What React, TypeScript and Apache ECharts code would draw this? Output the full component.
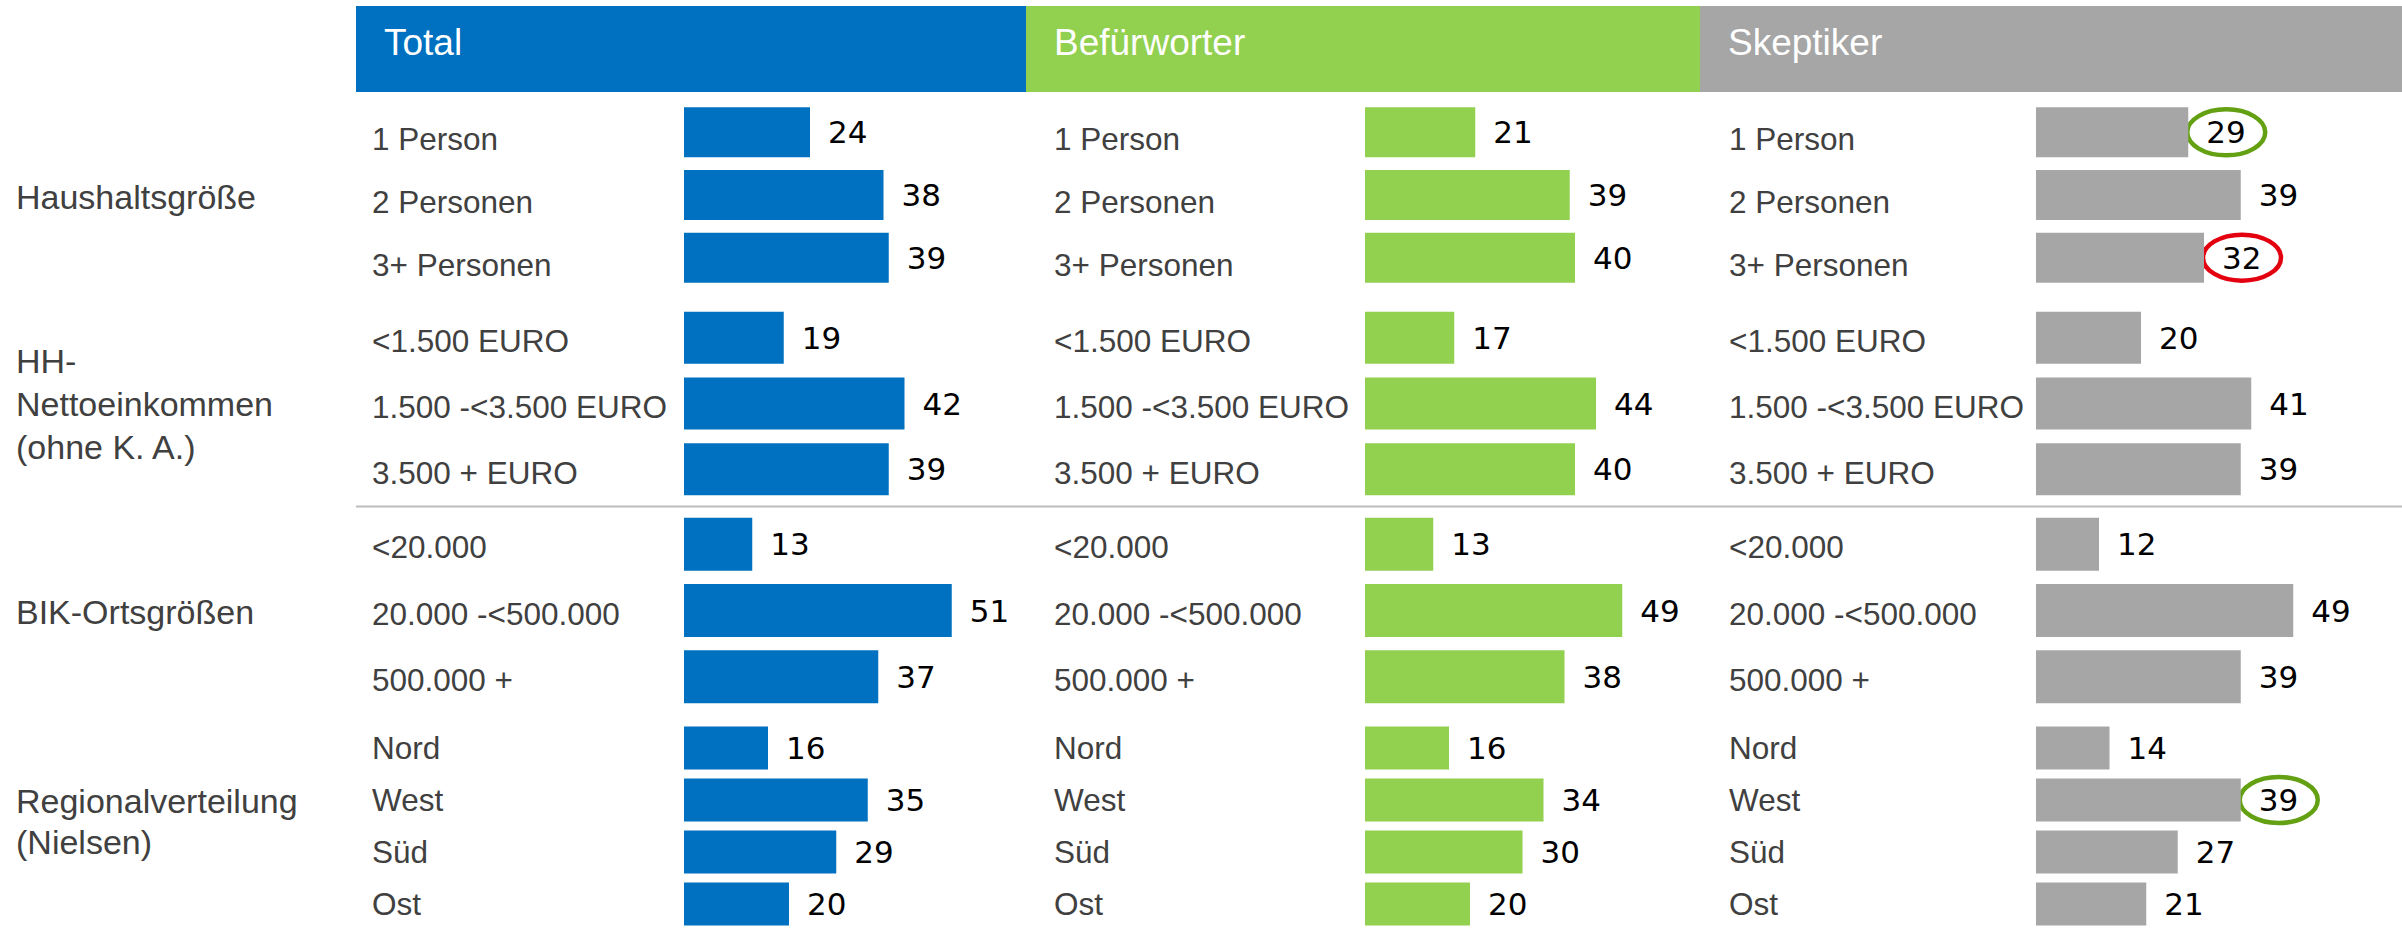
import React, { useEffect, useRef } from 'react';
import * as echarts from 'echarts';

// ---------- data ----------
const columns = ['Total', 'Befürworter', 'Skeptiker'];
const groupNames = ['Haushaltsgröße', 'HH-\nNettoeinkommen\n(ohne K. A.)', 'BIK-Ortsgrößen', 'Regionalverteilung\n(Nielsen)'];

const householdCategories = ['1 Person', '2 Personen', '3+ Personen'];
const incomeCategories = ['<1.500 EURO', '1.500 -<3.500 EURO', '3.500 + EURO'];
const bikCategories = ['<20.000', '20.000 -<500.000', '500.000 +'];
const regionCategories = ['Nord', 'West', 'Süd', 'Ost'];
const groupCategories = [householdCategories, incomeCategories, bikCategories, regionCategories];

const totalValues = [24, 38, 39, 19, 42, 39, 13, 51, 37, 16, 35, 29, 20];
const befuerworterValues = [21, 39, 40, 17, 44, 40, 13, 49, 38, 16, 34, 30, 20];
const skeptikerValues = [29, 39, 32, 20, 41, 39, 12, 49, 39, 14, 39, 27, 21];
const columnValues = [totalValues, befuerworterValues, skeptikerValues];

// circled values (column, group, category)
const highlights = [
  { column: 2, group: 0, category: '1 Person', color: '#63a012' },
  { column: 2, group: 0, category: '3+ Personen', color: '#e3000f' },
  { column: 2, group: 3, category: 'West', color: '#63a012' },
];

// ---------- style / layout ----------
const columnColors = ['#0070c0', '#92d050', '#a6a6a6'];
const headerLeft = [356, 1026, 1700];
const headerRight = [1026, 1700, 2402];
const headerTop = 6;
const headerHeight = 86;
const barStarts = [684, 1365, 2036];
const labelMargins = [312, 311, 307];
const axisWidth = 315;
const axisMax = 60;
const groupTops = [101, 305, 511, 722];
const groupHeights = [188, 197, 199, 214];
const barHeights = [50, 52, 53, 43];
const groupLineHeights = [43, 43, 43, 41];
const groupLabelShift = [2, 0, 1, -8];
const catLabelShift = [7, 3.5, 3, 0];
const labelFont = "'Liberation Sans', Arial, sans-serif";
const valueFont = "'DejaVu Sans', sans-serif";

export default function App() {
  const ref = useRef<HTMLDivElement>(null);

  useEffect(() => {
    if (!ref.current) return;
    const chart = echarts.init(ref.current, null, { renderer: 'svg' });

    const grids: any[] = [];
    const xAxes: any[] = [];
    const yAxes: any[] = [];
    const series: any[] = [];
    const G = groupCategories.length;

    columns.forEach((col, c) => {
      let offset = 0;
      groupCategories.forEach((cats, g) => {
        const idx = c * G + g;
        const shift = catLabelShift[g];
        grids.push({ left: barStarts[c], top: groupTops[g], width: axisWidth, height: groupHeights[g] });
        xAxes.push({ type: 'value', gridIndex: idx, min: 0, max: axisMax, show: false });
        yAxes.push({
          type: 'category',
          gridIndex: idx,
          data: cats,
          inverse: true,
          axisLine: { show: false },
          axisTick: { show: false },
          splitLine: { show: false },
          axisLabel: shift > 0
            ? {
                align: 'left',
                margin: labelMargins[c],
                fontSize: 31.5,
                color: '#404040',
                fontFamily: labelFont,
                verticalAlign: 'top',
                lineHeight: shift * 2,
              }
            : {
                align: 'left',
                margin: labelMargins[c],
                fontSize: 31.5,
                color: '#404040',
                fontFamily: labelFont,
                verticalAlign: 'middle',
              },
        });
        series.push({
          type: 'bar',
          name: col,
          xAxisIndex: idx,
          yAxisIndex: idx,
          data: columnValues[c].slice(offset, offset + cats.length),
          barWidth: barHeights[g],
          itemStyle: { color: columnColors[c] },
          label: {
            show: true,
            position: 'right',
            distance: 18,
            fontFamily: valueFont,
            fontSize: 31,
            color: '#000000',
          },
          silent: true,
        });
        offset += cats.length;
      });
    });

    chart.setOption({
      animation: false,
      backgroundColor: '#ffffff',
      grid: grids,
      xAxis: xAxes,
      yAxis: yAxes,
      series,
    });

    const graphics: any[] = [];
    columns.forEach((col, c) => {
      graphics.push({
        type: 'rect',
        shape: { x: headerLeft[c], y: headerTop, width: headerRight[c] - headerLeft[c], height: headerHeight },
        style: { fill: columnColors[c] },
        silent: true,
      });
      graphics.push({
        type: 'text',
        x: headerLeft[c] + 28,
        y: 42,
        style: { text: col, fill: '#ffffff', font: `37px ${labelFont}`, verticalAlign: 'middle', align: 'left' },
        silent: true,
      });
    });
    groupNames.forEach((name, g) => {
      graphics.push({
        type: 'text',
        x: 16,
        y: groupTops[g] + groupHeights[g] / 2 + groupLabelShift[g],
        style: {
          text: name,
          fill: '#404040',
          font: `34px ${labelFont}`,
          lineHeight: groupLineHeights[g],
          verticalAlign: 'middle',
          align: 'left',
        },
        silent: true,
      });
    });
    const sepY = (groupTops[1] + groupHeights[1] + groupTops[2]) / 2;
    graphics.push({
      type: 'line',
      shape: { x1: headerLeft[0], y1: sepY, x2: 2402, y2: sepY },
      style: { stroke: '#bcbcbc', lineWidth: 2 },
      silent: true,
    });

    highlights.forEach((h) => {
      const cats = groupCategories[h.group];
      const catIdx = cats.indexOf(h.category);
      let offset = 0;
      for (let g = 0; g < h.group; g++) offset += groupCategories[g].length;
      const value = columnValues[h.column][offset + catIdx];
      const idx = h.column * G + h.group;
      const p = chart.convertToPixel({ gridIndex: idx } as any, [value, catIdx]) as number[];
      if (!p) return;
      graphics.push({
        type: 'ellipse',
        shape: { cx: p[0] + 38, cy: p[1], rx: 39, ry: 23 },
        style: { fill: 'none', stroke: h.color, lineWidth: 4.5 },
        silent: true,
      });
    });

    chart.setOption({ graphic: graphics });

    return () => {
      chart.dispose();
    };
  }, []);

  return (
    <div
      ref={ref}
      style={{ position: 'fixed', left: 0, top: 0, width: 2402, height: 930, background: '#ffffff' }}
    />
  );
}
